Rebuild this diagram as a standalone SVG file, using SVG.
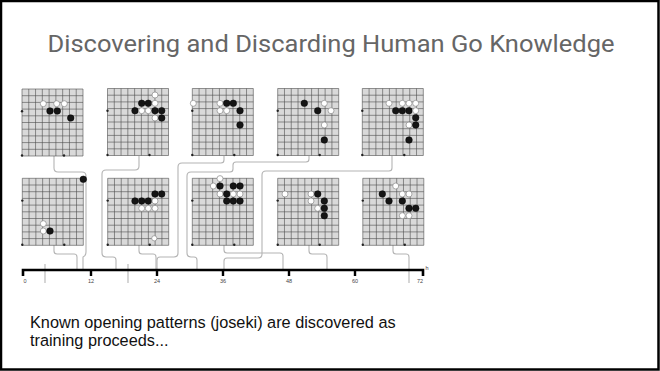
<svg xmlns="http://www.w3.org/2000/svg" xmlns:xlink="http://www.w3.org/1999/xlink" width="660" height="371" viewBox="0 0 660 371">
<style>
.b{fill:#151515;stroke:#000;stroke-width:.5}
.w{fill:#fff;stroke:#8a8a8a;stroke-width:.7}
.conn{fill:none;stroke:#b4b4b4;stroke-width:1.1;stroke-linejoin:round}
.tl{font-family:"Liberation Sans",Arial,sans-serif;font-size:5.5px;fill:#444;text-anchor:middle}
</style>
<defs>
<g id="board">
<rect x="0" y="0" width="61" height="67" fill="#d9d9d9"/>
<path d="M0,0V67M6.78,0V67M13.56,0V67M20.33,0V67M27.11,0V67M33.89,0V67M40.67,0V67M47.44,0V67M54.22,0V67M61,0V67M0,0H61M0,6.7H61M0,13.4H61M0,20.1H61M0,26.8H61M0,33.5H61M0,40.2H61M0,46.9H61M0,53.6H61M0,60.3H61M0,67H61" stroke="#4d4d4d" stroke-width=".6" fill="none"/>
<circle cx="0" cy="22.3" r="1.2" fill="#222"/>
<circle cx="0" cy="66.5" r="1.2" fill="#222"/>
<circle cx="42" cy="66.5" r="1.2" fill="#222"/>
</g>
</defs>
<rect x="0" y="0" width="660" height="371" fill="#fff"/>
<rect x="1" y="1" width="657.5" height="368.5" fill="none" stroke="#000" stroke-width="2.5"/>
<text x="331" y="52" font-family="Roboto,'Liberation Sans',sans-serif" font-size="24.5" fill="#666" text-anchor="middle" textLength="567" lengthAdjust="spacingAndGlyphs">Discovering and Discarding Human Go Knowledge</text>

<g id="connectors">
<path class="conn" d="M54,156V168q0,4 4,4H82q4,0 4,4V252q0,4 -3,5V270"/>
<path class="conn" d="M54,245V251q0,3 3,3H74q3,0 3,3V270"/>
<path class="conn" d="M139,156V166q0,4 -4,4H106q-4,0 -4,4V253q0,4 4,4H113q3,0 3,3V270"/>
<path class="conn" d="M139,245V251q0,3 3,3H153q3,0 3,3V270"/>
<path class="conn" d="M224,156V160q0,3 -3,3H182q-4,0 -4,4V253q0,4 -4,4H160q-3,0 -3,3V270"/>
<path class="conn" d="M309,156V159q0,3 -3,3H236q-3,0 -3,3V169q0,3 -3,3H191q-4,0 -4,4V253q0,4 4,4H194q3,0 3,3V270"/>
<path class="conn" d="M392,156V168q0,3 -3,3H266q-4,0 -4,4V254q0,4 -4,4H227q-3,0 -3,3V270"/>
<path class="conn" d="M224,245V250q0,3 3,3H280q3,0 3,3V270"/>
<path class="conn" d="M309,245V251q0,3 3,3H324q3,0 3,3V270"/>
<path class="conn" d="M393,245V251q0,3 3,3H406q3,0 3,3V283"/>
<path class="conn" d="M45,264V283M128,264V283"/>
</g>

<g id="board-t1"><use xlink:href="#board" x="22" y="89"/>
<circle class="w" cx="43.3" cy="103.7" r="3"/><circle class="w" cx="56.7" cy="103.7" r="3"/><circle class="w" cx="64.3" cy="103.7" r="3"/>
<circle class="b" cx="50" cy="111" r="3.3"/><circle class="b" cx="57.3" cy="111" r="3.3"/><circle class="b" cx="70.7" cy="118" r="3.3"/></g>

<g id="board-t2"><use xlink:href="#board" x="107.5" y="88.5"/>
<circle class="w" cx="155" cy="95" r="3"/><circle class="b" cx="141.7" cy="103.3" r="3.3"/><circle class="b" cx="148.3" cy="103.3" r="3.3"/><circle class="w" cx="155" cy="103.3" r="3"/>
<circle class="b" cx="135" cy="110.7" r="3.3"/><circle class="w" cx="141.7" cy="110.7" r="3"/><circle class="w" cx="148.3" cy="110.7" r="3"/><circle class="b" cx="155" cy="110.7" r="3.3"/><circle class="b" cx="161.7" cy="110.7" r="3.3"/>
<circle class="w" cx="155" cy="118" r="3"/><circle class="b" cx="161.7" cy="118" r="3.3"/></g>

<g id="board-t3"><use xlink:href="#board" x="192.3" y="88.5"/>
<circle class="w" cx="193.3" cy="103.3" r="3"/><circle class="w" cx="220" cy="103.3" r="3"/><circle class="b" cx="226.7" cy="103.3" r="3.3"/><circle class="b" cx="233.3" cy="103.3" r="3.3"/>
<circle class="w" cx="220" cy="110.7" r="3"/><circle class="w" cx="226.7" cy="110.7" r="3"/><circle class="b" cx="240" cy="110.7" r="3.3"/><circle class="b" cx="240" cy="125" r="3.3"/></g>

<g id="board-t4"><use xlink:href="#board" x="277.7" y="88.5"/>
<circle class="b" cx="304.3" cy="103.3" r="3.3"/><circle class="w" cx="324.3" cy="103.3" r="3"/><circle class="b" cx="317.7" cy="110.7" r="3.3"/><circle class="w" cx="331" cy="110.7" r="3"/>
<circle class="w" cx="324.3" cy="125" r="3"/><circle class="b" cx="324.3" cy="140" r="3.3"/></g>

<g id="board-t5"><use xlink:href="#board" x="362.3" y="88.5"/>
<circle class="w" cx="389" cy="103.3" r="3"/><circle class="w" cx="402.3" cy="103.3" r="3"/><circle class="w" cx="409" cy="103.3" r="3"/><circle class="w" cx="415.7" cy="103.3" r="3"/>
<circle class="b" cx="395.7" cy="110.7" r="3.3"/><circle class="b" cx="402.3" cy="110.7" r="3.3"/><circle class="b" cx="409" cy="110.7" r="3.3"/><circle class="w" cx="415.7" cy="110.7" r="3"/>
<circle class="b" cx="415.7" cy="117.7" r="3.3"/><circle class="w" cx="409" cy="125" r="3"/><circle class="b" cx="415.7" cy="125" r="3.3"/><circle class="b" cx="409" cy="140" r="3.3"/></g>

<g id="board-b1"><use xlink:href="#board" x="22.3" y="178.3"/>
<circle class="b" cx="83.3" cy="179.3" r="3.3"/><circle class="w" cx="43.3" cy="223.7" r="3"/><circle class="w" cx="43.3" cy="231" r="3"/><circle class="b" cx="50" cy="231" r="3.3"/></g>

<g id="board-b2"><use xlink:href="#board" x="107.7" y="178.3"/>
<circle class="b" cx="155" cy="194" r="3.3"/><circle class="b" cx="161.7" cy="194" r="3.3"/>
<circle class="b" cx="135" cy="201" r="3.3"/><circle class="b" cx="141.7" cy="201" r="3.3"/><circle class="b" cx="148.3" cy="201" r="3.3"/><circle class="w" cx="155" cy="201" r="3"/>
<circle class="w" cx="141.7" cy="208.3" r="3"/><circle class="w" cx="148.3" cy="208.3" r="3"/><circle class="w" cx="155" cy="208.3" r="3"/><circle class="w" cx="154.3" cy="238.3" r="2.6"/></g>

<g id="board-b3"><use xlink:href="#board" x="192.3" y="178.3"/>
<circle class="w" cx="220" cy="178.6" r="3"/><circle class="w" cx="213.3" cy="186" r="3"/><circle class="b" cx="220" cy="186" r="3.3"/><circle class="b" cx="233.3" cy="186" r="3.3"/><circle class="b" cx="240" cy="186" r="3.3"/>
<circle class="w" cx="220" cy="194" r="3"/><circle class="b" cx="226.7" cy="194" r="3.3"/><circle class="w" cx="233.3" cy="194" r="3"/><circle class="w" cx="240" cy="194" r="3"/>
<circle class="b" cx="226.7" cy="201" r="3.3"/><circle class="b" cx="233.3" cy="201" r="3.3"/><circle class="b" cx="240" cy="201" r="3.3"/></g>

<g id="board-b4"><use xlink:href="#board" x="277.7" y="178.3"/>
<circle class="w" cx="285" cy="194" r="3"/><circle class="w" cx="311" cy="194" r="3"/><circle class="b" cx="317.7" cy="194" r="3.3"/>
<circle class="w" cx="311" cy="201" r="3"/><circle class="b" cx="324.3" cy="201" r="3.3"/><circle class="w" cx="317.7" cy="208.3" r="3"/><circle class="b" cx="324.3" cy="208.3" r="3.3"/><circle class="b" cx="324.3" cy="215.7" r="3.3"/></g>

<g id="board-b5"><use xlink:href="#board" x="362.8" y="178.3"/>
<circle class="w" cx="395.7" cy="186" r="3"/><circle class="b" cx="382.3" cy="194" r="3.3"/><circle class="w" cx="402.3" cy="194" r="3"/><circle class="w" cx="409" cy="194" r="3"/>
<circle class="b" cx="389" cy="201" r="3.3"/><circle class="b" cx="402.3" cy="201" r="3.3"/><circle class="b" cx="409" cy="208.3" r="3.3"/><circle class="b" cx="415.7" cy="208.3" r="3.3"/>
<circle class="w" cx="402.3" cy="215.7" r="3"/><circle class="w" cx="409" cy="215.7" r="3"/></g>

<g id="timeline">
<path d="M23,276V270H423V276" fill="none" stroke="#000" stroke-width="2.6"/>
<path d="M91,270V276M157,270V276M223,270V276M289,270V276M355,270V276" stroke="#000" stroke-width="2.4"/>
<text class="tl" x="25" y="283">0</text>
<text class="tl" x="91" y="283">12</text>
<text class="tl" x="157" y="283">24</text>
<text class="tl" x="223" y="283">36</text>
<text class="tl" x="289" y="283">48</text>
<text class="tl" x="355" y="283">60</text>
<text class="tl" x="420" y="283">72</text>
<text class="tl" x="427" y="270" font-size="3.5">h</text>
</g>

<text font-family="'Liberation Sans',Arial,sans-serif" font-size="16.3" fill="#111"><tspan x="30" y="328">Known opening patterns (joseki) are discovered as</tspan><tspan x="30" y="346">training proceeds...</tspan></text>
</svg>
